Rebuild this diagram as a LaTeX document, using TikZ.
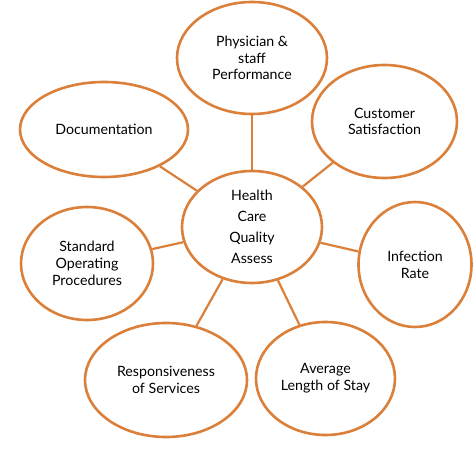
\documentclass[tikz,border=0pt]{standalone}
\usepackage{fontspec}
\setmainfont{Lato}
\usetikzlibrary{shapes.geometric}
\definecolor{orng}{RGB}{218,128,58}
\begin{document}
\begin{tikzpicture}[x=1pt,y=-1pt,
  bub/.style={ellipse, draw=orng, line width=2.6pt, fill=white, inner sep=0pt,
    align=center, text=black, font=\fontsize{14.2}{16.8}\selectfont},
  link/.style={draw=orng, line width=2.2pt}]
\useasboundingbox (0,0) rectangle (474,457);
\node[bub, minimum width=140pt, minimum height=112pt, font=\fontsize{14.2}{21}\selectfont] (c) at (252,227) {Health\\Care\\Quality\\Assess};
\node[bub, minimum width=150pt, minimum height=112pt] (p) at (252,58) {Physician \&\\staff\\Performance};
\node[bub, minimum width=145pt, minimum height=113pt] (cs) at (384.5,121.5) {Customer\\Satisfaction};
\node[bub, minimum width=168pt, minimum height=95pt] (d) at (104,129.5) {Documentation};
\node[bub, minimum width=113pt, minimum height=125pt] (ir) at (415,264.5) {Infection\\Rate};
\node[bub, minimum width=132pt, minimum height=113pt] (sop) at (87,263.5) {Standard\\Operating\\Procedures};
\node[bub, minimum width=162pt, minimum height=114pt] (rs) at (166,380) {Responsiveness\\of Services};
\node[bub, minimum width=139pt, minimum height=113pt] (al) at (325.5,378.5) {Average\\Length of Stay};
\draw[link] (c) -- (p);
\draw[link] (c) -- (cs);
\draw[link] (c) -- (d);
\draw[link] (c) -- (ir);
\draw[link] (c) -- (sop);
\draw[link] (c) -- (rs);
\draw[link] (c) -- (al);
\end{tikzpicture}
\end{document}
